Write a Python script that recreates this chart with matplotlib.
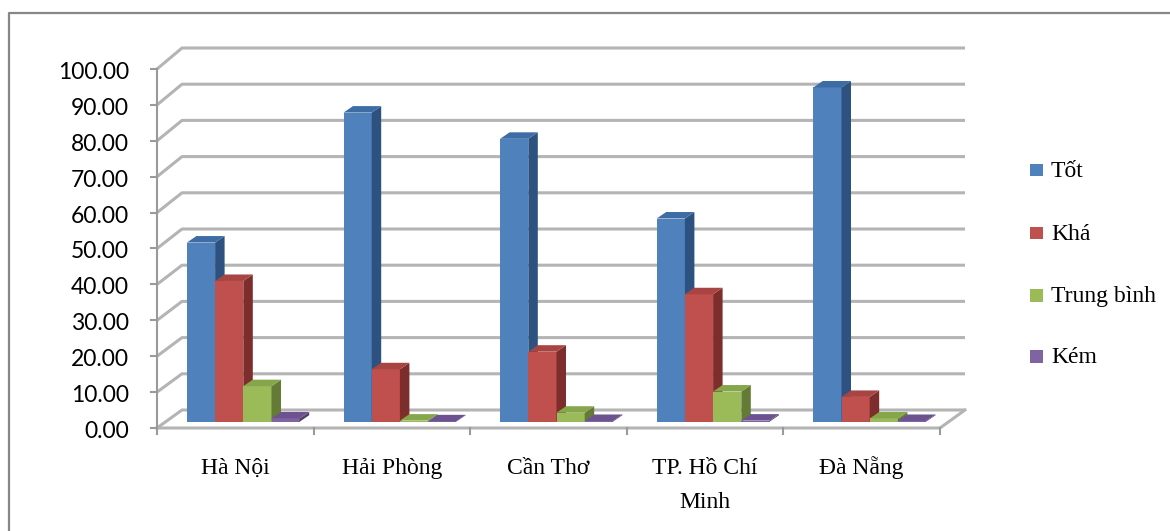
import matplotlib
matplotlib.use("Agg")
import matplotlib.pyplot as plt
from matplotlib.patches import Polygon, Rectangle
from matplotlib.lines import Line2D

# ---- data -------------------------------------------------------------
cities = ["Hà Nội", "Hải Phòng", "Cần Thơ", "TP. Hồ Chí\nMinh", "Đà Nẵng"]
series_names = ["Tốt", "Khá", "Trung bình", "Kém"]
tot = [49.9, 86.1, 78.8, 56.6, 93.1]
kha = [39.2, 14.6, 19.5, 35.5, 6.9]
trung_binh = [9.9, 0.3, 2.5, 8.4, 0.9]
kem = [0.9, 0.1, 0.2, 0.3, 0.2]
y_ticks = [0, 10, 20, 30, 40, 50, 60, 70, 80, 90, 100]
y_tick_labels = ["%.2f" % t for t in y_ticks]

# face colours: front, side, top
front_cols = ["#4F81BD", "#C0504D", "#9BBB59", "#8064A2"]
side_cols = ["#2E5280", "#7D2E2C", "#647B36", "#513E6A"]
top_cols = ["#3E6CA4", "#A84542", "#86A64B", "#6C5390"]

# ---- canvas geometry (pixels) -----------------------------------------
W, H = 1170, 531
PX0, PXW = 157.0, 156.6      # left of category 0, width of one category
PY0, PYS = 428.0, 3.59       # baseline of value 0, pixels per unit

fig = plt.figure(figsize=(W / 100, H / 100), dpi=100)
fig.patch.set_facecolor("white")
ax = fig.add_axes([0, 0, 1, 1])
ax.set_xlim(-PX0 / PXW, (W - PX0) / PXW)
ax.set_ylim(-(H - PY0) / PYS, PY0 / PYS)
ax.axis("off")

def px(dx_pixels):
    return dx_pixels / PXW

def py(dy_pixels):
    return dy_pixels / PYS

ncat = len(cities)
DX = px(25)                  # depth of the floor / side wall
DY0, DY100 = py(18), py(21)  # depth rise at 0 and at 100


def back_y(v):
    return DY0 + v * (1 + (DY100 - DY0) / 100.0)


grid_col = "#B4B4B4"
axis_col = "#9A9A9A"

# back wall gridlines and side wall diagonals
for v in y_ticks:
    ax.plot([0, DX, ncat + DX], [v, back_y(v), back_y(v)],
            color=grid_col, lw=2.2, solid_capstyle="butt", zorder=1)

# floor outline
ax.plot([0, ncat, ncat + DX], [0, 0, back_y(0)], color=grid_col, lw=2.2, zorder=1)

# vertical axis with ticks
ax.plot([0, 0], [0, 100], color=axis_col, lw=1.5, zorder=2)
for v, lab in zip(y_ticks, y_tick_labels):
    ax.plot([-px(6), 0], [v, v], color=axis_col, lw=1.5, zorder=2)
    ax.text(-px(28), v - py(10), lab, ha="right", va="baseline",
            fontsize=16.5, family="Lato", color="black")

# category ticks on the floor edge
for i in range(ncat + 1):
    ax.plot([i, i], [0, -py(6)], color=axis_col, lw=1.5, zorder=2)

# ---- bars --------------------------------------------------------------
BW = px(28.2)       # bar width
BDX, BDY = px(9.5), py(6.5)   # bar depth
BOFF = px(8)        # shift of the bar row into the depth
BASE = py(6.3)

values = [tot, kha, trung_binh, kem]
for i in range(ncat):
    for j, vals in enumerate(values):
        v = vals[i]
        x0 = i + 0.5 - 2 * BW + j * BW + BOFF
        y0 = BASE
        y1 = BASE + v
        z = 3 + i * 10 + j
        ax.add_patch(Rectangle((x0, y0), BW, v, facecolor=front_cols[j],
                               edgecolor="none", zorder=z))
        ax.add_patch(Polygon([(x0 + BW, y0), (x0 + BW + BDX, y0 + BDY),
                              (x0 + BW + BDX, y1 + BDY), (x0 + BW, y1)],
                             closed=True, facecolor=side_cols[j],
                             edgecolor="none", zorder=z))
        ax.add_patch(Polygon([(x0, y1), (x0 + BW, y1),
                              (x0 + BW + BDX, y1 + BDY), (x0 + BDX, y1 + BDY)],
                             closed=True, facecolor=top_cols[j],
                             edgecolor="none", zorder=z))

# ---- category labels ----------------------------------------------------
for i, name in enumerate(cities):
    for k, line in enumerate(name.split("\n")):
        ax.text(i + 0.5, -py(46) - k * py(33.5), line, ha="center",
                va="baseline", fontsize=17, family="Liberation Serif",
                color="black")

# ---- legend --------------------------------------------------------------
leg_x, leg_sq = 1030, 12.5
leg_y = [170.0, 233.0, 295.5, 356.7]
for name, col, yc in zip(series_names, front_cols, leg_y):
    fig.patches.append(Rectangle((leg_x / W, 1 - (yc + leg_sq / 2) / H),
                                 leg_sq / W, leg_sq / H, facecolor=col,
                                 edgecolor="none", transform=fig.transFigure))
    fig.text((leg_x + 21) / W, 1 - (yc + leg_sq / 2 + 0.5) / H, name,
             ha="left", va="baseline", fontsize=17,
             family="Liberation Serif", color="black")

# ---- chart frame ----------------------------------------------------------
fig.add_artist(Line2D([8.5 / W, 8.5 / W, 1.0], [0.0, 1 - 13 / H, 1 - 13 / H],
                      transform=fig.transFigure, color="#878787", lw=1.6))

fig.savefig("out.png", dpi=100, facecolor="white")
